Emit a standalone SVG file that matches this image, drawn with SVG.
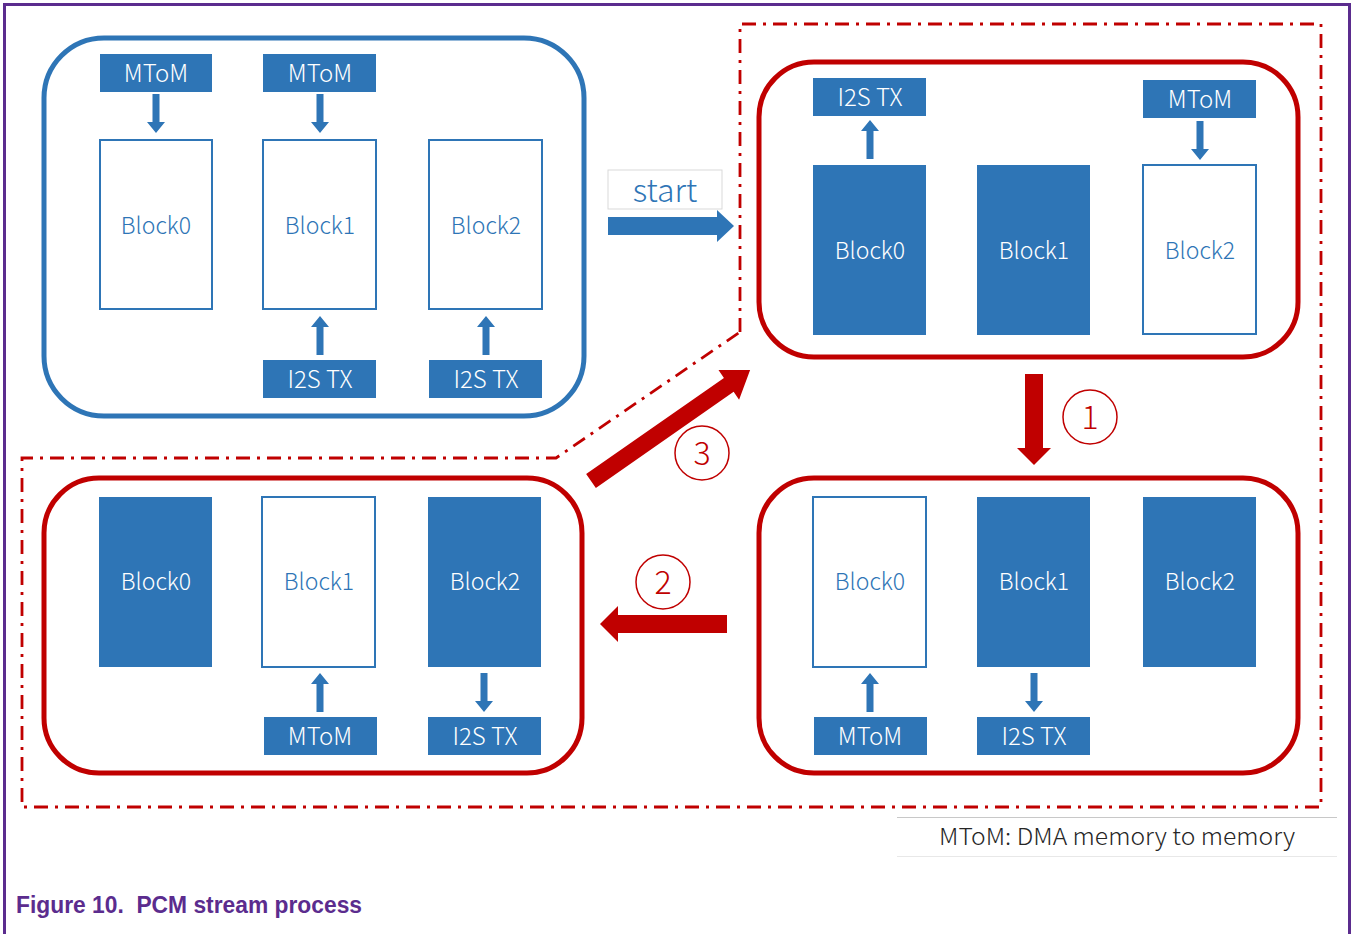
<svg xmlns="http://www.w3.org/2000/svg" xmlns:xlink="http://www.w3.org/1999/xlink" width="1352" height="934" viewBox="0 0 1352 934">
<style>
.t{font-family:"Noto Sans CJK SC","Noto Sans",sans-serif;font-weight:300;text-anchor:middle;dominant-baseline:central;transform:translateY(-2px)}
.lbl{font-size:23px;fill:#fff}
.blu{fill:#2E75B6}
.bt{font-size:23px;fill:#2E75B6}
.tb{font-size:24px}
.box{fill:#2E75B6}
.bo{fill:#fff;stroke:#2E75B6;stroke-width:2}
.bf{fill:#2E75B6}
.pb{fill:none;stroke:#2E75B6;stroke-width:5}
.pr{fill:none;stroke:#C00000;stroke-width:5}
.ra{fill:#C00000}
.circ{fill:none;stroke:#C00000;stroke-width:1.5}
.num{font-size:32px;fill:#C00000}
</style>
<defs>
<path id="ad" d="M-3.5,0 H3.5 V28 H9 L0,39 L-9,28 H-3.5 Z" fill="#2E75B6"/>
</defs>
<rect width="1352" height="934" fill="#fff"/>
<path d="M4.5,934 V4.5 H1349.5 V934" fill="none" stroke="#5B2C8E" stroke-width="3"/>

<g id="outline">
<path d="M740,332 V24 H1321 V807 H22 V458 H556 Z" fill="none" stroke="#C00000" stroke-width="2.8" stroke-dasharray="14 7 3 7"/>
</g>

<g id="panelA">
<rect class="pb" x="44" y="38" width="540" height="378" rx="60"/>
<rect class="box" x="100" y="54" width="112" height="38"/><text class="t lbl tb" x="156" y="73">MToM</text>
<rect class="box" x="263" y="54" width="113" height="38"/><text class="t lbl tb" x="320" y="73">MToM</text>
<rect class="bo" x="100" y="140" width="112" height="169"/><text class="t bt" x="156" y="226">Block0</text>
<rect class="bo" x="263" y="140" width="113" height="169"/><text class="t bt" x="320" y="226">Block1</text>
<rect class="bo" x="429" y="140" width="113" height="169"/><text class="t bt" x="486" y="226">Block2</text>
<rect class="box" x="263" y="360" width="113" height="38"/><text class="t lbl tb" x="320" y="379">I2S TX</text>
<rect class="box" x="429" y="360" width="113" height="38"/><text class="t lbl tb" x="486" y="379">I2S TX</text>
<use xlink:href="#ad" transform="translate(156,94)"/>
<use xlink:href="#ad" transform="translate(320,94)"/>
<use xlink:href="#ad" transform="translate(320,355) rotate(180)"/>
<use xlink:href="#ad" transform="translate(486,355) rotate(180)"/>
</g>

<g id="panelB">
<rect class="pr" x="759" y="62" width="539" height="295" rx="55"/>
<rect class="box" x="813" y="78" width="113" height="38"/><text class="t lbl tb" x="870" y="97">I2S TX</text>
<rect class="box" x="1143" y="80" width="113" height="38"/><text class="t lbl tb" x="1200" y="99">MToM</text>
<rect class="bf" x="813" y="165" width="113" height="170"/><text class="t lbl" x="870" y="251">Block0</text>
<rect class="bf" x="977" y="165" width="113" height="170"/><text class="t lbl" x="1034" y="251">Block1</text>
<rect class="bo" x="1143" y="165" width="113" height="169"/><text class="t bt" x="1200" y="251">Block2</text>
<use xlink:href="#ad" transform="translate(870,159) rotate(180)"/>
<use xlink:href="#ad" transform="translate(1200,121)"/>
</g>

<g id="panelC">
<rect class="pr" x="44" y="478" width="538" height="295" rx="55"/>
<rect class="bf" x="99" y="497" width="113" height="170"/><text class="t lbl" x="156" y="582">Block0</text>
<rect class="bo" x="262" y="497" width="113" height="170"/><text class="t bt" x="319" y="582">Block1</text>
<rect class="bf" x="428" y="497" width="113" height="170"/><text class="t lbl" x="485" y="582">Block2</text>
<rect class="box" x="264" y="717" width="113" height="38"/><text class="t lbl tb" x="320" y="736">MToM</text>
<rect class="box" x="428" y="717" width="113" height="38"/><text class="t lbl tb" x="485" y="736">I2S TX</text>
<use xlink:href="#ad" transform="translate(320,712) rotate(180)"/>
<use xlink:href="#ad" transform="translate(484,673)"/>
</g>

<g id="panelD">
<rect class="pr" x="759" y="478" width="539" height="295" rx="55"/>
<rect class="bo" x="813" y="497" width="113" height="170"/><text class="t bt" x="870" y="582">Block0</text>
<rect class="bf" x="977" y="497" width="113" height="170"/><text class="t lbl" x="1034" y="582">Block1</text>
<rect class="bf" x="1143" y="497" width="113" height="170"/><text class="t lbl" x="1200" y="582">Block2</text>
<rect class="box" x="814" y="717" width="113" height="38"/><text class="t lbl tb" x="870" y="736">MToM</text>
<rect class="box" x="977" y="717" width="113" height="38"/><text class="t lbl tb" x="1034" y="736">I2S TX</text>
<use xlink:href="#ad" transform="translate(870,712) rotate(180)"/>
<use xlink:href="#ad" transform="translate(1034,673)"/>
</g>

<g id="start">
<rect x="608" y="170" width="114" height="39" fill="#fff" stroke="#d9d9d9" stroke-width="1"/>
<text class="t" x="665" y="190" font-size="32" fill="#2E75B6">start</text>
</g>

<g id="connectors">
<polygon class="blu" points="608,217 717,217 717,210 734,226 717,242 717,235 608,235"/>
<polygon class="ra" points="1025,374 1043,374 1043,448 1051,448 1034,465 1017,448 1025,448"/>
<polygon class="ra" points="727,615 727,633 618,633 618,642 600,624 618,606 618,615"/>
<polygon class="ra" points="0,-8.5 168,-8.5 168,-18 194,0 168,18 168,8.5 0,8.5" transform="translate(591,481) rotate(-34.9)"/>
</g>

<g id="steps">
<circle class="circ" cx="1090" cy="417" r="27"/><text class="t num" x="1090" y="417">1</text>
<circle class="circ" cx="663" cy="582" r="27"/><text class="t num" x="663" y="582">2</text>
<circle class="circ" cx="702" cy="453" r="27"/><text class="t num" x="702" y="453">3</text>
</g>

<g id="legend">
<line x1="897" y1="817.5" x2="1337" y2="817.5" stroke="#c8c8c8" stroke-width="1"/>
<line x1="897" y1="856.5" x2="1337" y2="856.5" stroke="#e8e8e8" stroke-width="1"/>
<text x="1117" y="845" font-family="Noto Sans CJK SC,Noto Sans,sans-serif" font-weight="300" font-size="23" fill="#262626" text-anchor="middle" textLength="356" lengthAdjust="spacingAndGlyphs">MToM: DMA memory to memory</text>
</g>

<text x="16" y="913" font-family="Liberation Sans,Arial,sans-serif" font-weight="bold" font-size="23" fill="#5B2C8E" textLength="346" lengthAdjust="spacingAndGlyphs">Figure 10.&#160; PCM stream process</text>
</svg>
